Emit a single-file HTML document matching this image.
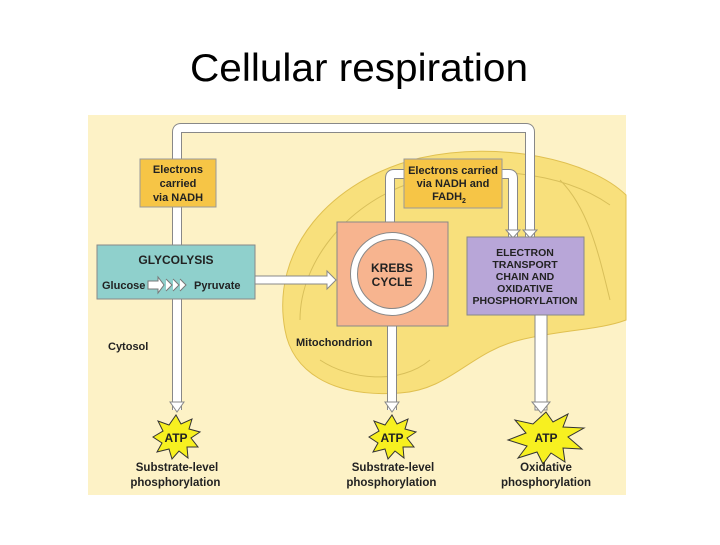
<!DOCTYPE html>
<html><head><style>
body{margin:0;background:#fff;width:720px;height:540px;overflow:hidden;font-family:"Liberation Sans",sans-serif}
</style></head><body>
<svg width="720" height="540" xmlns="http://www.w3.org/2000/svg" font-family="Liberation Sans, sans-serif">
<text x="190" y="81" font-size="39" textLength="338" lengthAdjust="spacingAndGlyphs" fill="#000">Cellular respiration</text>
<rect x="88" y="115" width="538" height="380" fill="#fdf2c6"/>
<!-- mitochondrion -->
<path d="M285,330 C270,250 330,180 420,158 C500,140 590,160 626,195 L626,320 C600,330 560,330 520,340 C470,352 450,390 400,393 C330,398 292,370 285,330 Z" fill="#f8e07c" stroke="#e0c050" stroke-width="1"/>
<path d="M300,320 C300,260 350,200 420,180 C480,165 560,170 610,205 M320,360 C350,380 400,385 430,360 M560,180 C590,210 600,260 610,300" fill="none" stroke="#d8bf5a" stroke-width="1"/>
<g fill="none" stroke="#888" stroke-width="10" stroke-linejoin="round">
<path d="M177,410 L177,132 Q177,128 181,128 L526,128 Q530,128 530,132 L530,238"/>
<path d="M390,222 L390,178 Q390,174 394,174 L404,174 M502,174 L509,174 Q513,174 513,178 L513,238"/>
<path d="M392,326 L392,410"/>
</g>
<g fill="none" stroke="#fff" stroke-width="8" stroke-linejoin="round">
<path d="M177,410 L177,132 Q177,128 181,128 L526,128 Q530,128 530,132 L530,238"/>
<path d="M390,222 L390,178 Q390,174 394,174 L404,174 M502,174 L509,174 Q513,174 513,178 L513,238"/>
<path d="M392,326 L392,410"/>
</g>
<rect x="535" y="315" width="12" height="95" fill="#fff" stroke="#888"/>
<g fill="#fff" stroke="#888">
<path d="M170,402 L184,402 L177,412 Z"/>
<path d="M385,402 L399,402 L392,412 Z"/>
<path d="M532,402 L550,402 L541,413 Z"/>
<path d="M506,230 L520,230 L513,238 Z"/>
<path d="M523,230 L537,230 L530,238 Z"/>
</g>
<!-- boxes -->
<rect x="140" y="159" width="76" height="48" fill="#f6c546" stroke="#999"/>
<text font-size="11" font-weight="bold" text-anchor="middle" fill="#222"><tspan x="178" y="173">Electrons</tspan><tspan x="178" y="187">carried</tspan><tspan x="178" y="201">via NADH</tspan></text>
<rect x="404" y="159" width="98" height="49" fill="#f6c546" stroke="#999"/>
<text font-size="11" font-weight="bold" text-anchor="middle" fill="#222"><tspan x="453" y="174">Electrons carried</tspan><tspan x="453" y="187">via NADH and</tspan><tspan x="449" y="200">FADH</tspan><tspan font-size="7" dy="3">2</tspan></text>
<rect x="97" y="245" width="158" height="54" fill="#8fd0cc" stroke="#888"/>
<text x="176" y="264" font-size="12" font-weight="bold" text-anchor="middle" fill="#222">GLYCOLYSIS</text>
<text x="102" y="289" font-size="11" font-weight="bold" fill="#222">Glucose</text>
<text x="194" y="289" font-size="11" font-weight="bold" fill="#222">Pyruvate</text>
<path d="M148,281 h10 v-4 l6,8 l-6,8 v-4 h-10 Z M166,279 l6,6 l-6,6 M173,279 l6,6 l-6,6 M180,279 l6,6 l-6,6" fill="#fff" stroke="#777" stroke-width="1"/>
<path d="M255,276 L327,276 L327,271 L336,280 L327,289 L327,284 L255,284 Z" fill="#fff" stroke="#888"/>
<rect x="337" y="222" width="111" height="104" fill="#f7b48f" stroke="#888"/>
<circle cx="392" cy="274" r="38" fill="none" stroke="#888" stroke-width="8"/>
<circle cx="392" cy="274" r="38" fill="none" stroke="#fff" stroke-width="6"/>
<text font-size="12" font-weight="bold" text-anchor="middle" fill="#222"><tspan x="392" y="272">KREBS</tspan><tspan x="392" y="286">CYCLE</tspan></text>
<rect x="467" y="237" width="117" height="78" fill="#b8a6d8" stroke="#888"/>
<text font-size="10.5" font-weight="bold" text-anchor="middle" fill="#222"><tspan x="525" y="256">ELECTRON</tspan><tspan x="525" y="268">TRANSPORT</tspan><tspan x="525" y="280">CHAIN AND</tspan><tspan x="525" y="292">OXIDATIVE</tspan><tspan x="525" y="304">PHOSPHORYLATION</tspan></text>
<text x="108" y="350" font-size="11" font-weight="bold" fill="#222">Cytosol</text>
<text x="296" y="346" font-size="11" font-weight="bold" fill="#222">Mitochondrion</text>
<!-- ATP stars -->
<g fill="#f7f020" stroke="#333" stroke-width="1">
<polygon points="176,415 181,424 192,419 189,429 200,432 191,438 198,447 187,447 188,458 179,451 172,459 169,449 157,452 162,443 153,437 163,431 158,421 169,425"/>
<polygon points="392,415 397,424 408,419 405,429 416,432 407,438 414,447 403,447 404,458 395,451 388,459 385,449 373,452 378,443 369,437 379,431 374,421 385,425"/>
<polygon points="546,412 553,422 568,414 563,427 584,428 568,437 582,449 563,448 565,462 551,453 543,464 537,452 518,458 527,446 508,440 526,433 515,420 533,424"/>
</g>
<text font-size="12" font-weight="bold" text-anchor="middle" fill="#222">
<tspan x="176" y="442">ATP</tspan><tspan x="392" y="442">ATP</tspan><tspan x="546" y="442">ATP</tspan></text>
<text font-size="11.5" font-weight="bold" text-anchor="middle" fill="#222">
<tspan x="177" y="471">Substrate-level</tspan><tspan x="177" y="486">phosphorylation</tspan>
<tspan x="393" y="471">Substrate-level</tspan><tspan x="393" y="486">phosphorylation</tspan>
<tspan x="546" y="471">Oxidative</tspan><tspan x="546" y="486">phosphorylation</tspan></text>
</svg>
</body></html>
